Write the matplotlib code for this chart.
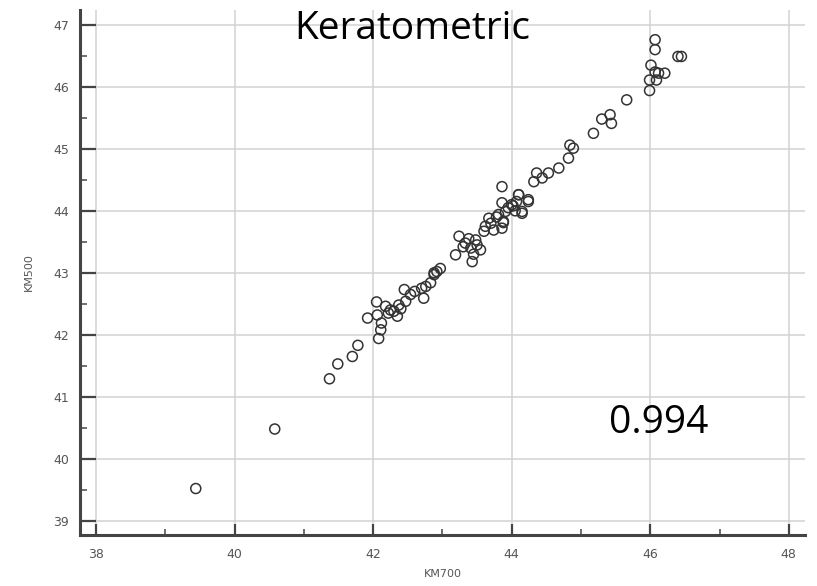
import numpy as np
import matplotlib
matplotlib.use('Agg')
import matplotlib.pyplot as plt
from matplotlib.ticker import MultipleLocator

# KM700 (x) vs KM500 (y)
km700 = [39.44, 40.58, 41.37, 41.49, 41.70, 41.78, 42.08, 41.92, 42.05, 42.12,
         42.11, 42.18, 42.06, 42.30, 42.35, 42.37, 42.47, 42.45, 42.54, 42.73,
         42.76, 42.83, 42.88, 42.92, 42.97, 42.88, 42.25, 42.40, 42.60, 42.70,
         43.24, 43.19, 43.33, 43.41, 43.43, 43.55, 43.48, 43.60, 43.67, 43.74,
         43.86, 43.88, 43.81, 43.91, 44.00, 43.86, 44.15, 44.07, 44.24, 43.30,
         43.38, 43.50, 43.45, 43.70, 43.95, 44.05, 44.10, 43.86, 44.10, 44.24,
         44.15, 43.88, 44.36, 44.44, 44.32, 44.53, 44.68, 44.82, 44.84, 44.89,
         45.18, 45.30, 45.42, 45.44, 45.66, 45.99, 45.99, 46.09, 46.21, 46.12,
         46.01, 46.07, 46.07, 46.40, 46.45, 46.07, 43.62, 43.78, 44.02, 42.22]
km500 = [39.52, 40.48, 41.29, 41.53, 41.65, 41.83, 41.94, 42.27, 42.53, 42.19,
         42.08, 42.46, 42.32, 42.38, 42.30, 42.48, 42.54, 42.73, 42.65, 42.59,
         42.78, 42.84, 42.97, 43.02, 43.07, 43.00, 42.40, 42.42, 42.70, 42.75,
         43.59, 43.29, 43.48, 43.40, 43.18, 43.37, 43.53, 43.67, 43.88, 43.69,
         43.72, 43.83, 43.94, 43.99, 44.10, 44.13, 43.96, 44.15, 44.15, 43.42,
         43.55, 43.45, 43.30, 43.80, 44.05, 44.00, 44.26, 44.39, 44.26, 44.18,
         43.99, 43.81, 44.61, 44.53, 44.47, 44.61, 44.69, 44.85, 45.06, 45.01,
         45.25, 45.48, 45.55, 45.41, 45.79, 45.94, 46.11, 46.11, 46.22, 46.22,
         46.35, 46.60, 46.76, 46.49, 46.49, 46.24, 43.75, 43.90, 44.08, 42.35]

title_txt = 'Keratometric'
r_txt = '0.994'

fig = plt.figure(figsize=(8.17, 5.86), dpi=100)
ax = fig.add_axes([0.098, 0.087, 0.887, 0.896])

ax.scatter(km700, km500, s=52, facecolors='none', edgecolors='#333333',
           linewidths=1.1, zorder=3)

ax.set_xlim(37.77, 48.23)
ax.set_ylim(38.77, 47.24)
ax.xaxis.set_major_locator(MultipleLocator(2))
ax.xaxis.set_minor_locator(MultipleLocator(1))
ax.yaxis.set_major_locator(MultipleLocator(1))
ax.yaxis.set_minor_locator(MultipleLocator(0.5))

ax.grid(True, which='major', color='#d2d2d2', linewidth=1.1, zorder=0)
for s in ['top', 'right']:
    ax.spines[s].set_visible(False)
for s in ['left', 'bottom']:
    ax.spines[s].set_color('#444444')
    ax.spines[s].set_linewidth(2.2)

ax.tick_params(axis='y', which='major', direction='in', length=11.5, width=1.6,
               color='#444444', labelsize=9, labelcolor='#555555', pad=8)
ax.tick_params(axis='y', which='minor', direction='in', length=5, width=1.2,
               color='#555555')
ax.tick_params(axis='x', which='major', direction='in', length=8, width=1.6,
               color='#444444', labelsize=9, labelcolor='#555555', pad=9)
ax.tick_params(axis='x', which='minor', direction='in', length=4, width=1.2,
               color='#555555')

ax.set_xlabel('KM700', fontsize=8, color='#555555', labelpad=6)
ax.set_ylabel('KM500', fontsize=8, color='#555555', labelpad=14)

fig.text(0.505, 0.950, title_txt, fontsize=28, family='Open Sans',
         ha='center', va='center', color='black')
fig.text(0.806, 0.279, r_txt, fontsize=28, family='Open Sans',
         ha='center', va='center', color='black')

fig.savefig('out.png', dpi=100)
